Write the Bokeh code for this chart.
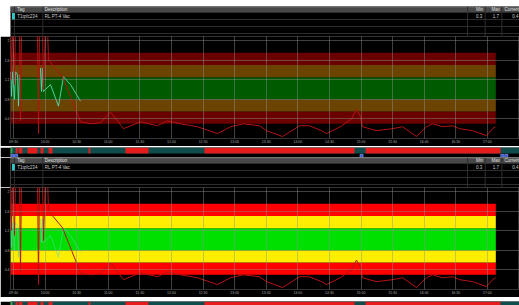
import pandas as pd
from bokeh.plotting import figure
from bokeh.layouts import column
from bokeh.models import Range1d, FixedTicker, DatetimeTickFormatter
from bokeh.core.properties import value
from bokeh.embed import file_html
from bokeh.resources import INLINE

DAY = "2024-01-01 "
FONT = "Liberation Sans"
W = 519

# ---------------- data ----------------
COLUMNS = ["Tag", "Description", "Min", "Max", "Current"]
ROW = ["T1tpfc234", "RL PT-4 Vac", "0.3", "1.7", "0.4"]

VIEW = ["09:27:09", "17:30:30"]
TIME_TICKS = ["09:30", "10:00", "10:30", "11:00", "11:30", "12:00", "12:30", "13:00",
              "13:30", "14:00", "14:30", "15:00", "15:30", "16:00", "16:30", "17:00"]
Y_TICKS = [0.4, 0.8, 1.2, 1.6, 2.0]
Y_VIEW = [0.0, 2.08]

# limit bands (LoLo, Lo, L, H, Hi, HiHi)
LIMIT_EDGES = [0.3, 0.55, 0.8, 1.25, 1.5, 1.75]
BAND_KIND = ["alarm", "warn", "ok", "warn", "alarm"]
BAND_SPAN = ["09:27:09", "17:08:00"]

RED_T = ["09:27:09", "09:28:06", "09:29:03", "09:30:57", "09:31:54", "09:35:42", "09:36:39",
         "09:37:36", "09:52:48", "09:53:44", "09:54:41", "09:57:32", "09:58:29", "10:00:23",
         "10:02:17", "10:03:14", "10:16:32", "10:33:38", "10:43:06", "10:52:36", "11:02:06",
         "11:14:30", "11:30:36", "11:46:48", "11:56:12", "12:08:36", "12:24:42", "12:43:42",
         "12:56:06", "13:08:24", "13:23:36", "13:30:18", "13:45:30", "14:01:36", "14:11:06",
         "14:22:30", "14:27:12", "14:40:30", "14:51:00", "14:55:42", "14:59:30", "15:01:24",
         "15:14:42", "15:29:54", "15:39:24", "15:52:42", "16:02:12", "16:07:54", "16:17:24",
         "16:26:54", "16:33:36", "16:45:54", "16:59:12", "17:04:54", "17:07:42"]
RED_V = [2.30, 1.20, 2.30, 1.10, 2.30, 2.30, 0.36,
         2.30, 2.30, 0.10, 2.30, 2.30, 1.00, 2.30,
         2.30, 1.60, 1.26, 0.34, 0.30, 0.32, 0.54,
         0.20, 0.34, 0.26, 0.36, 0.30, 0.24, 0.10,
         0.24, 0.30, 0.26, 0.16, 0.04, 0.26, 0.26,
         0.16, 0.10, 0.24, 0.40, 0.60, 0.45, 0.24,
         0.16, 0.20, 0.24, 0.04, 0.24, 0.30, 0.24,
         0.26, 0.20, 0.16, 0.06, 0.20, 0.24]

NAN = float("nan")
CYAN_T = ["09:27:09", "09:28:06", "09:29:03", "09:30:57", "09:31:54", "09:33:48", "09:34:45",
          "09:35:42", "09:45:00", "09:55:36", "09:56:33", "09:57:30", "09:58:27", "10:05:06",
          "10:12:42", "10:17:27", "10:24:06", "10:33:38"]
CYAN_V = [1.36, 0.86, 1.36, 0.80, 1.36, 1.30, 0.66,
          1.30, NAN, 1.44, 0.96, 1.44, 0.96, 1.10,
          0.66, 1.26, 1.10, 0.76]

# status bar: alarm periods
ALARM_START = ["09:32:00", "09:35:00", "09:43:20", "09:55:40", "10:03:15", "10:41:15",
               "11:16:20", "12:31:20", "15:04:20"]
ALARM_END = ["09:34:00", "09:38:30", "09:52:50", "09:58:30", "10:07:00", "10:43:00",
             "11:38:10", "14:53:50", "17:12:30"]
GOOD_START = ["09:27:09"]
GOOD_END = ["09:29:00"]

# navigation buttons under the status bar
NAV_START = ["09:27:30", "09:31:00", "14:59:00", "17:12:40", "17:16:30"]
NAV_END = ["09:30:30", "09:34:00", "15:02:00", "17:15:40", "17:19:30"]

# ---------------- helpers ----------------
def T(lst):
    return list(pd.to_datetime([DAY + s for s in lst]))

XR = Range1d(*T(VIEW))

TOP_COLORS = {"alarm": "#6a0000", "warn": "#6a4400", "ok": "#005a00"}
BOT_COLORS = {"alarm": "#ff0000", "warn": "#ffee00", "ok": "#00e000"}


def base(height, **kw):
    return figure(width=W, height=height, output_backend="svg", toolbar_location=None,
                  background_fill_color="black", border_fill_color="black",
                  min_border_left=0, min_border_right=0, min_border_top=0, min_border_bottom=0,
                  **kw)


def header_fig(top_gap):
    p = base(30 + top_gap, x_range=Range1d(0, 519), y_range=Range1d(30, 0),
             x_axis_location=None, y_axis_location=None, outline_line_color=None)
    if top_gap:
        p.min_border_top = top_gap
        p.border_fill_color = "white"
    p.grid.visible = False
    p.quad(left=[0], right=[519], top=[0], bottom=[6], fill_color="#474747", line_color=None)
    p.segment(x0=[0], x1=[519], y0=[0.3], y1=[0.3], line_color="#7c7c7c", line_width=1)
    rows = [6, 13, 20, 27]
    p.segment(x0=[0] * 4, x1=[519] * 4, y0=rows, y1=rows, line_color="#2e2e2e", line_width=1)
    seps = [4, 33, 466, 484, 501]
    p.segment(x0=seps, x1=seps, y0=[0] * 5, y1=[30] * 5, line_color="#2e2e2e", line_width=1)
    p.quad(left=[1.5], right=[4.5], top=[6.5], bottom=[13], fill_color="#33c6c6", line_color=None)
    p.text(x=[7, 35], y=[3.2, 3.2], text=COLUMNS[:2], text_font=value(FONT),
           text_font_size="4.5px", text_color="#e0e0e0", text_baseline="middle", text_align="left")
    p.text(x=[482, 499, 519], y=[3.2] * 3, text=COLUMNS[2:], text_font=value(FONT),
           text_font_size="4.5px", text_color="#e0e0e0", text_baseline="middle", text_align="right")
    p.text(x=[7, 35], y=[9.7, 9.7], text=ROW[:2], text_font=value(FONT),
           text_font_size="4.5px", text_color="#d0d0d0", text_baseline="middle", text_align="left")
    p.text(x=[481, 498, 518], y=[9.7] * 3, text=ROW[2:], text_font=value(FONT),
           text_font_size="4.5px", text_color="#d0d0d0", text_baseline="middle", text_align="right")
    return p


def trend_fig(colors, cyan_alpha):
    p = base(110, x_axis_type="datetime", x_range=XR, y_range=Range1d(*Y_VIEW),
             outline_line_color="#333333")
    p.min_border_left = 10
    p.min_border_bottom = 6
    bs, be = T(BAND_SPAN)
    n = len(BAND_KIND)
    p.quad(left=[bs] * n, right=[be] * n, bottom=LIMIT_EDGES[:-1], top=LIMIT_EDGES[1:],
           fill_color=[colors[k] for k in BAND_KIND], line_color=None)
    p.line(T(CYAN_T), CYAN_V, line_color="#52dcb4", line_width=1, line_alpha=cyan_alpha)
    p.line(T(RED_T), RED_V, line_color="#b41414", line_width=1)

    ax = p.xaxis[0]
    ax.ticker = FixedTicker(ticks=[t.value / 1e6 for t in T(TIME_TICKS)])
    ax.formatter = DatetimeTickFormatter(minutes="%H:%M", hourmin="%H:%M", hours="%H:%M",
                                         minsec="%H:%M", seconds="%H:%M")
    ay = p.yaxis[0]
    ay.ticker = FixedTicker(ticks=Y_TICKS)
    for a in (ax, ay):
        a.axis_line_color = None
        a.major_tick_line_color = None
        a.minor_tick_line_color = None
        a.major_tick_out = 0
        a.major_tick_in = 0
        a.minor_tick_out = 0
        a.major_label_standoff = 1
        a.major_label_text_font = FONT
        a.major_label_text_font_size = "3.5px"
        a.major_label_text_color = "#a8a8a8"
    p.grid.grid_line_color = "#909090"
    p.grid.grid_line_alpha = 0.45
    p.grid.level = "guide"
    return p


def status_fig(height, y0):
    p = base(height, x_axis_type="datetime", x_range=XR, y_range=Range1d(y0, 11),
             x_axis_location=None, y_axis_location=None, outline_line_color=None)
    p.min_border_left = 10
    p.grid.visible = False
    vs, ve = T(VIEW)
    p.quad(left=[vs], right=[ve], bottom=[5], top=[11], fill_color="#0f4c4c", line_color=None)
    n = len(ALARM_START)
    p.quad(left=T(ALARM_START), right=T(ALARM_END), bottom=[5] * n, top=[11] * n,
           fill_color="#e41c1c", line_color=None)
    p.quad(left=T(GOOD_START), right=T(GOOD_END), bottom=[5], top=[11],
           fill_color="#2fa83a", line_color=None)
    m = len(NAV_START)
    p.quad(left=T(NAV_START), right=T(NAV_END), bottom=[1.2] * m, top=[4.2] * m,
           fill_color="#3a5ad8", line_color="#9fb0ff", line_width=0.5)
    return p


layout = column(
    header_fig(6), trend_fig(TOP_COLORS, 0.9), status_fig(11, 0),
    header_fig(0), trend_fig(BOT_COLORS, 0.55), status_fig(8, 3),
    spacing=0,
)

open("out.html", "w").write(file_html(layout, INLINE))
